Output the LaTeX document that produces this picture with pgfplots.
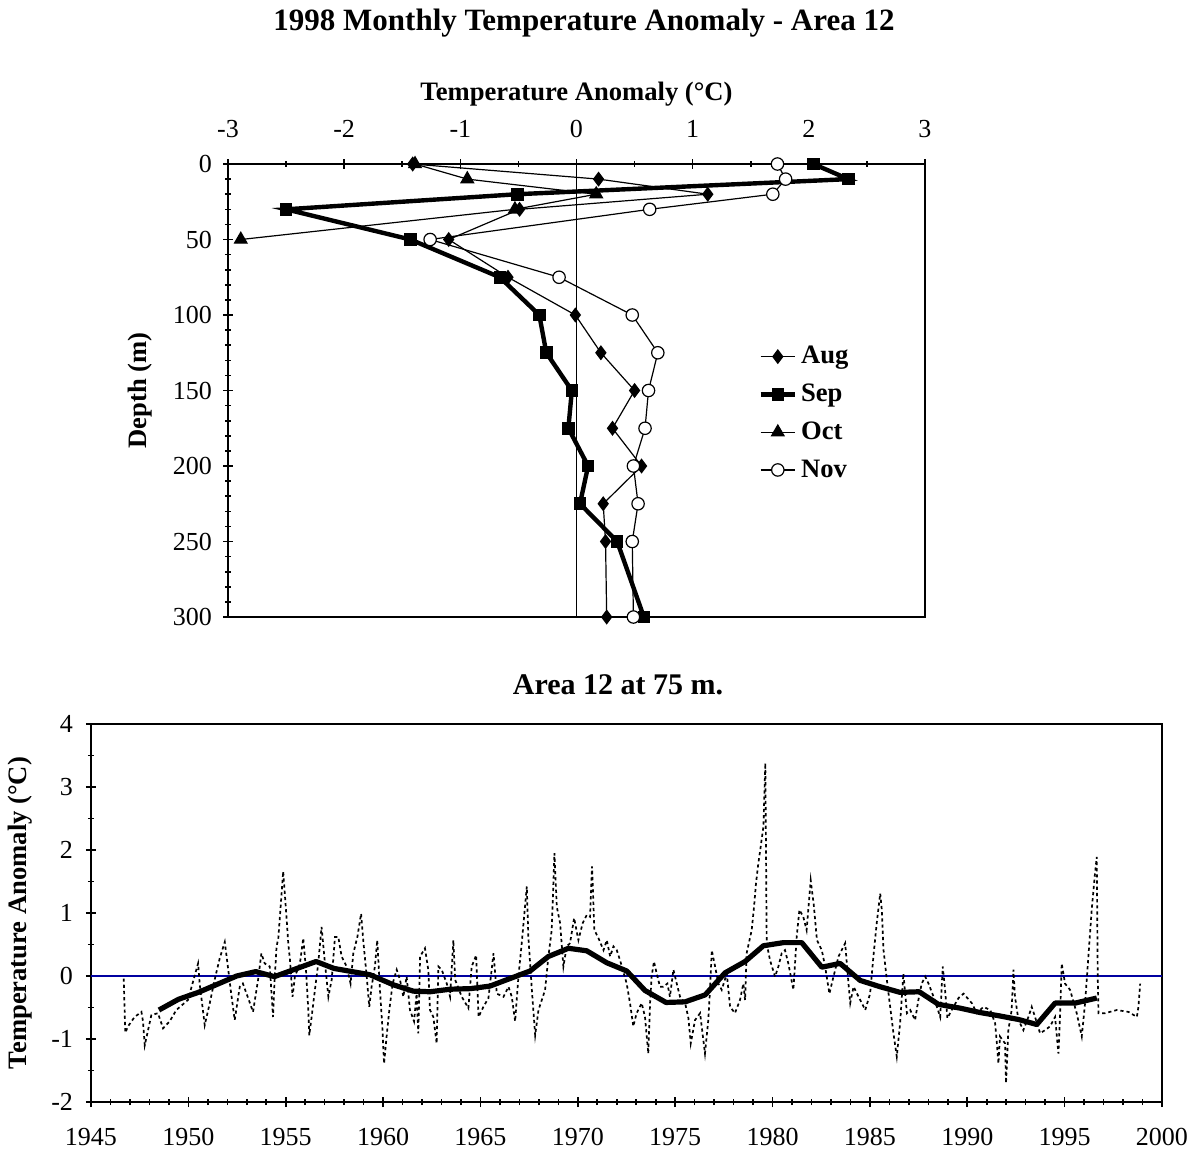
\documentclass[border=0pt]{standalone}
\usepackage{pgfplots}
\pgfplotsset{compat=1.18}
\usepackage{fontspec}
\setmainfont{Liberation Serif}
\definecolor{zeroblue}{RGB}{0,0,160}
\pgfplotstableread{
x y
1946.68 -0.04
1946.76 -0.90
1946.90 -0.80
1947.24 -0.65
1947.59 -0.57
1947.67 -0.72
1947.76 -1.10
1948.10 -0.62
1948.44 -0.59
1948.70 -0.83
1949.04 -0.72
1949.38 -0.54
1949.98 -0.38
1950.50 0.20
1950.58 -0.12
1950.84 -0.78
1951.10 -0.43
1951.35 -0.06
1951.61 0.28
1951.87 0.54
1952.04 0.12
1952.20 -0.28
1952.38 -0.70
1952.64 -0.17
1952.80 -0.12
1953.07 -0.35
1953.32 -0.57
1953.58 -0.06
1953.75 0.36
1953.92 0.20
1954.18 0.15
1954.35 -0.65
1954.43 -0.06
1954.53 0.47
1954.62 0.60
1954.87 1.66
1955.05 0.89
1955.13 0.52
1955.22 0.25
1955.35 -0.33
1955.47 -0.01
1955.73 0.20
1955.90 0.60
1956.04 0.10
1956.16 -0.54
1956.21 -0.94
1956.33 -0.65
1956.50 -0.22
1956.67 0.20
1956.84 0.78
1957.00 0.25
1957.19 -0.33
1957.36 -0.06
1957.53 0.62
1957.70 0.62
1957.87 0.31
1958.13 0.15
1958.33 -0.12
1958.47 0.36
1958.68 0.62
1958.87 0.99
1958.98 0.57
1959.16 -0.01
1959.29 -0.49
1959.41 -0.17
1959.58 0.15
1959.70 0.57
1959.84 -0.22
1959.96 -0.80
1960.05 -1.39
1960.18 -0.96
1960.32 -0.54
1960.49 -0.12
1960.70 0.10
1960.87 -0.06
1961.04 -0.33
1961.21 -0.01
1961.38 -0.54
1961.59 -0.72
1961.72 -0.28
1961.81 -0.91
1961.90 0.31
1962.15 0.44
1962.32 0.10
1962.41 -0.54
1962.58 -0.65
1962.75 -1.07
1962.84 0.15
1963.01 0.10
1963.27 -0.12
1963.44 -0.33
1963.61 0.57
1963.70 -0.06
1964.04 -0.33
1964.38 -0.51
1964.55 0.15
1964.78 0.33
1964.90 -0.65
1965.15 -0.49
1965.41 -0.35
1965.67 0.36
1965.84 -0.28
1966.18 -0.33
1966.44 -0.17
1966.61 -0.33
1966.78 -0.72
1966.95 -0.01
1967.12 0.52
1967.38 1.42
1967.46 0.62
1967.64 -0.22
1967.81 -0.94
1967.98 -0.54
1968.32 -0.22
1968.49 0.31
1968.66 0.73
1968.80 1.95
1968.92 1.10
1969.09 0.84
1969.26 0.15
1969.43 0.47
1969.60 0.52
1969.81 0.92
1970.03 0.57
1970.25 0.84
1970.46 0.97
1970.63 0.94
1970.73 1.74
1970.85 0.73
1971.06 0.60
1971.32 0.41
1971.49 0.57
1971.66 0.31
1971.83 0.47
1972.00 0.41
1972.17 0.25
1972.51 -0.12
1972.68 -0.43
1972.85 -0.80
1973.02 -0.59
1973.28 -0.43
1973.45 -0.65
1973.62 -1.23
1973.71 -0.43
1973.79 -0.01
1973.91 0.23
1974.05 0.04
1974.22 -0.17
1974.39 -0.17
1974.60 -0.12
1974.73 -0.33
1974.91 0.10
1975.08 -0.12
1975.25 -0.33
1975.51 -0.43
1975.68 -0.67
1975.80 -1.07
1976.02 -0.70
1976.28 -0.59
1976.53 -1.23
1976.70 -0.70
1976.79 -0.22
1976.88 0.41
1977.05 0.15
1977.22 -0.12
1977.39 -0.22
1977.65 0.04
1977.82 -0.49
1978.07 -0.59
1978.33 -0.38
1978.50 -0.12
1978.59 -0.38
1978.67 0.36
1978.93 0.73
1979.05 1.10
1979.15 1.47
1979.27 1.79
1979.39 2.05
1979.53 2.37
1979.63 3.38
1979.70 0.52
1979.87 0.25
1980.13 -0.01
1980.30 0.15
1980.47 0.36
1980.64 0.41
1980.81 0.20
1981.07 -0.22
1981.24 0.62
1981.38 1.05
1981.58 0.94
1981.75 0.73
1981.96 1.52
1982.12 1.12
1982.28 0.57
1982.53 0.41
1982.70 0.15
1982.92 -0.28
1983.13 -0.01
1983.39 0.31
1983.73 0.52
1983.90 -0.12
1983.99 -0.43
1984.16 -0.17
1984.50 -0.38
1984.76 -0.54
1985.01 -0.28
1985.18 0.31
1985.35 0.84
1985.53 1.31
1985.61 1.05
1985.70 0.41
1985.87 -0.06
1986.04 -0.49
1986.21 -0.91
1986.38 -1.28
1986.55 -0.75
1986.72 0.04
1986.90 -0.59
1987.07 -0.54
1987.32 -0.70
1987.49 -0.38
1987.66 -0.12
1987.84 -0.01
1988.01 -0.12
1988.27 -0.33
1988.61 -0.65
1988.74 0.15
1988.86 -0.22
1988.98 -0.67
1989.29 -0.49
1989.55 -0.35
1989.81 -0.28
1990.23 -0.43
1990.49 -0.59
1990.83 -0.49
1991.18 -0.54
1991.43 -0.75
1991.52 -1.07
1991.60 -1.39
1991.68 -0.96
1991.94 -1.07
1991.99 -1.70
1992.11 -0.86
1992.28 -0.54
1992.37 0.10
1992.45 -0.33
1992.63 -0.70
1992.88 -0.86
1993.14 -0.65
1993.31 -0.49
1993.48 -0.65
1993.74 -0.91
1993.99 -0.86
1994.25 -0.80
1994.51 -0.65
1994.68 -1.23
1994.77 -0.59
1994.85 0.20
1995.02 -0.12
1995.28 -0.22
1995.62 -0.59
1995.88 -0.96
1996.05 -0.43
1996.22 0.31
1996.39 1.05
1996.56 1.63
1996.65 1.89
1996.70 -0.01
1996.74 -0.59
1997.08 -0.59
1997.68 -0.54
1998.28 -0.57
1998.71 -0.65
1998.79 -0.49
1998.88 -0.12
}\monthly
\pgfplotstableread{
x y
1948.49 -0.54
1949.49 -0.37
1950.51 -0.26
1952.48 0.00
1953.46 0.07
1954.42 -0.01
1956.56 0.23
1957.48 0.12
1959.33 0.02
1960.53 -0.14
1961.55 -0.24
1962.41 -0.25
1963.44 -0.21
1964.50 -0.20
1965.49 -0.16
1966.52 -0.04
1967.55 0.08
1968.49 0.31
1969.52 0.44
1970.46 0.40
1971.49 0.21
1972.51 0.08
1973.45 -0.23
1974.53 -0.42
1975.51 -0.41
1976.54 -0.30
1977.56 0.05
1978.59 0.23
1979.53 0.48
1980.56 0.53
1981.50 0.53
1982.53 0.14
1983.47 0.20
1984.50 -0.07
1985.52 -0.17
1986.55 -0.26
1987.53 -0.25
1988.52 -0.45
1989.63 -0.51
1990.66 -0.58
1991.60 -0.63
1992.63 -0.69
1993.57 -0.77
1994.51 -0.43
1995.54 -0.43
1996.65 -0.35
}\annual
\begin{document}
\begin{tikzpicture}
\path[use as bounding box] (0,0) rectangle (600.5pt,-579pt);
\node[font=\fontsize{15.5pt}{18pt}\selectfont\bfseries] at (292pt,-11.5pt) {1998 Monthly Temperature Anomaly - Area 12};
\begin{axis}[
  at={(114pt,-82pt)}, anchor=north west, scale only axis,
  width=348.5pt, height=226.5pt,
  xmin=-3, xmax=3, ymin=0, ymax=300, y dir=reverse,
  xtick={-3,-2,-1,0,1,2,3}, minor x tick num=1,
  ytick={0,50,100,150,200,250,300}, minor y tick num=4,
  xtick pos=right, xticklabel pos=right, ytick pos=left,
  tick align=center, major tick length=5pt, minor tick length=3pt,
  every tick/.style={black, line width=0.8pt},
  axis line style={line width=0.8pt},
  ticklabel style={font=\fontsize{13pt}{15pt}\selectfont},
  x tick label style={yshift=7pt},
  y tick label style={xshift=-2pt},
  /pgf/number format/assume math mode=true,
  xlabel={Temperature Anomaly (°C)},
  ylabel={Depth (m)},
  ylabel style={at={(axis description cs:-0.126,0.5)}, anchor=center},
  label style={font=\fontsize{13.3pt}{15pt}\selectfont\bfseries},
  legend style={at={(0.752,0.616)}, anchor=north west, draw=none, fill=none,
    font=\fontsize{13.3pt}{15pt}\selectfont\bfseries, row sep=4.6pt},
  legend cell align=left,
]
\addplot[black, line width=0.6pt, forget plot] coordinates {(0,0) (0,300)};
\addplot[black, line width=0.6pt, mark=diamond*, mark size=3.3pt, mark options={solid, fill=black}] coordinates {
(-1.41,0) (0.19,10) (1.13,20) (-0.49,30) (-1.10,50) (-0.59,75) (-0.01,100) (0.21,125) (0.50,150) (0.31,175) (0.56,200) (0.23,225) (0.25,250) (0.26,300)};
\addlegendentry{Aug}
\addplot[black, line width=2.2pt, mark=square*, mark size=2.9pt, mark options={solid, fill=black, line width=0.5pt}] coordinates {
(2.04,0) (2.34,10) (-0.51,20) (-2.50,30) (-1.43,50) (-0.66,75) (-0.32,100) (-0.26,125) (-0.04,150) (-0.07,175) (0.10,200) (0.03,225) (0.35,250) (0.58,300)};
\addlegendentry{Sep}
\addplot[black, line width=0.6pt, mark=triangle*, mark size=3.6pt, mark options={solid, fill=black}] coordinates {
(-1.39,0) (-0.94,10) (0.17,20) (-0.53,30) (-2.89,50)};
\addlegendentry{Oct}
\addplot[black, line width=0.6pt, mark=*, mark size=3.1pt, mark options={solid, fill=white, line width=0.6pt}] coordinates {
(1.73,0) (1.80,10) (1.69,20) (0.63,30) (-1.26,50) (-0.15,75) (0.48,100) (0.70,125) (0.62,150) (0.59,175) (0.49,200) (0.53,225) (0.48,250) (0.49,300)};
\addlegendentry{Nov}
\end{axis}
\node[font=\fontsize{15pt}{18pt}\selectfont\bfseries] at (309pt,-342.5pt) {Area 12 at 75 m.};
\begin{axis}[
  at={(45.5pt,-362pt)}, anchor=north west, scale only axis,
  width=535.5pt, height=189pt,
  xmin=1945, xmax=2000, ymin=-2, ymax=4,
  xtick={1945,1950,...,2000}, minor x tick num=4,
  ytick={-2,-1,0,1,2,3,4}, minor y tick num=1,
  tick pos=left, tick align=center, major tick length=5pt, minor tick length=3pt,
  every tick/.style={black, line width=0.8pt},
  axis line style={line width=0.8pt},
  ticklabel style={font=\fontsize{13pt}{15pt}\selectfont},
  x tick label style={/pgf/number format/1000 sep={}, yshift=-7pt},
  y tick label style={xshift=-3pt},
  /pgf/number format/assume math mode=true,
  ylabel={Temperature Anomaly (°C)},
  ylabel style={at={(axis description cs:-0.066,0.5)}, anchor=center},
  label style={font=\fontsize{13.3pt}{15pt}\selectfont\bfseries},
]
\addplot[zeroblue, line width=0.7pt] coordinates {(1945,0) (2000,0)};
\addplot[black, line width=0.85pt, dash pattern=on 1.6pt off 1.5pt] table[x=x,y=y] {\monthly};
\addplot[black, line width=2.6pt, line join=round] table[x=x,y=y] {\annual};
\end{axis}
\end{tikzpicture}
\end{document}
